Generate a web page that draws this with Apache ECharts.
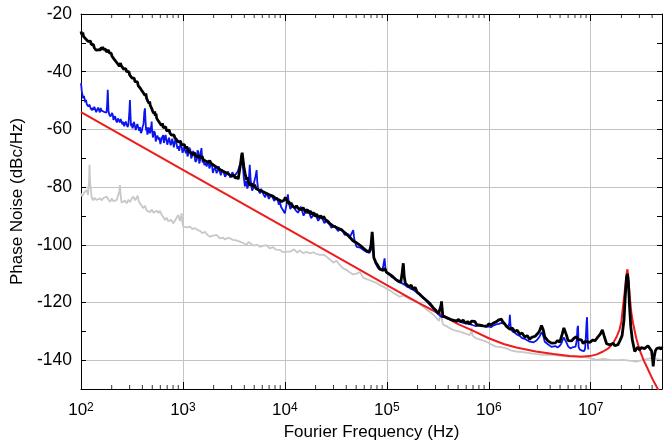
<!DOCTYPE html>
<html>
<head>
<meta charset="utf-8">
<script src="https://cdn.jsdelivr.net/npm/echarts@6/dist/echarts.min.js"></script>
<style>
  html, body { margin: 0; padding: 0; background: #fff; }
  #chart { width: 672px; height: 441px; }
</style>
</head>
<body>
<div id="chart"></div>
<script>
// phase noise traces, [frequency Hz, dBc/Hz]
const blackTrace = [
  [100,-26],[102,-27.2],[104,-26.4],[106,-27.8],[108,-27.3],[111,-28.6],[114,-28.1],[117,-29.5],[119,-28.9],[122,-30],
  [124,-29.4],[126,-30.6],[128,-30.1],[130,-31.1],[132,-30.5],[135,-31.7],[137,-31.2],[140,-32.5],[142,-32],[145,-33],
  [148,-32.4],[151,-32.9],[153,-31.9],[156,-32.4],[158,-31.5],[161,-32.2],[163,-31.4],[166,-32.3],[168,-31.9],[171,-32.8],
  [174,-32.2],[177,-33.1],[180,-32.6],[183,-33.3],[186,-32.5],[189,-33.5],[192,-33],[195,-34.1],[198,-33.6],[201,-34.6],
  [204,-34],[207,-35.1],[210,-34.6],[213,-35.8],[215,-35.2],[219,-36.3],[222,-35.8],[225,-36.9],[228,-36.3],[232,-37.4],
  [235,-36.9],[238,-38.1],[241,-37.5],[244,-37],[248,-37.9],[251,-37.3],[255,-38.5],[258,-38],[262,-39.1],[266,-38.5],
  [270,-39.4],[275,-38.9],[280,-40],[285,-39.5],[291,-40.6],[295,-40],[300,-41.1],[304,-40.5],[308,-41.7],[312,-41.1],
  [317,-42.2],[321,-41.6],[326,-42.8],[332,-42.2],[338,-43.4],[344,-42.8],[350,-44],[357,-43.5],[364,-44.8],[371,-44.2],
  [379,-45.6],[386,-45],[394,-46.5],[402,-46],[410,-47.4],[417,-46.8],[425,-48.3],[432,-47.6],[440,-49.2],[446,-48.6],
  [452,-50.2],[458,-49.6],[465,-51],[471,-50.3],[478,-51.7],[485,-51.1],[493,-52.7],[499,-52.1],[506,-53.8],[513,-53.2],
  [520,-54.5],[528,-53.8],[536,-55.3],[544,-54.6],[552,-56.1],[561,-55.5],[570,-56.9],[580,-56.3],[590,-57.7],[602,-57.1],
  [615,-58.6],[628,-57.9],[641,-59.4],[653,-58.8],[665,-59.8],[677,-59.1],[690,-60.5],[704,-59.9],[718,-60.9],[732,-60.2],
  [746,-61.3],[759,-60.7],[772,-62],[786,-61.4],[800,-62.5],[816,-61.9],[833,-62.9],[850,-62.4],[867,-63.6],[883,-63],
  [900,-64.3],[915,-63.7],[930,-64.8],[949,-64.2],[968,-65.3],[988,-64.7],[1007,-65.9],[1033,-65.3],[1060,-66.6],[1090,-65.9],
  [1120,-67.4],[1155,-66.8],[1190,-68],[1225,-67.4],[1262,-68.8],[1300,-68.1],[1340,-69.2],[1380,-68.6],[1420,-69.7],[1460,-69],
  [1500,-70],[1540,-69.3],[1582,-70.5],[1630,-69.9],[1680,-71],[1730,-70.4],[1780,-71.5],[1830,-70.8],[1880,-71.7],[1930,-71.2],
  [1982,-72.3],[2060,-71.8],[2140,-73.1],[2220,-72.6],[2300,-73.9],[2390,-73.3],[2480,-74.5],[2580,-73.9],[2680,-75.1],[2760,-74.6],
  [2850,-75.7],[2920,-75.1],[3000,-76.2],[3060,-75.6],[3120,-76.4],[3180,-75.9],[3236,-76.8],[3290,-76.3],[3350,-77.2],[3420,-76.6],
  [3480,-77.3],[3580,-74.5],[3680,-71.8],[3760,-69],[3811,-68.1],[3870,-70],[3960,-73],[4080,-75.5],[4210,-77.4],[4300,-76.6],
  [4400,-78.3],[4500,-77.7],[4600,-79.5],[4740,-78.8],[4890,-79.9],[5040,-79.2],[5200,-80.5],[5400,-79.9],[5600,-81.1],[5850,-80.5],
  [6120,-81.6],[6400,-81],[6700,-82.3],[7000,-81.7],[7300,-82.9],[7480,-82.3],[7670,-83.2],[7930,-82.7],[8200,-84],[8500,-83.4],
  [8800,-84.5],[9050,-83.9],[9300,-85],[9550,-84.4],[9800,-84.6],[10100,-83.6],[10400,-84.3],[10650,-85.6],[10900,-84.9],[11200,-86.1],
  [11500,-85.4],[11800,-86.6],[12100,-86],[12550,-87.2],[13000,-86.5],[13500,-87.4],[14000,-86.8],[14550,-87.8],[15100,-87.1],[15800,-88.5],
  [16500,-87.8],[17100,-89],[17800,-88.3],[18300,-89.5],[18900,-88.8],[19700,-90.1],[20500,-89.4],[21400,-90.6],[22400,-89.9],[23200,-90.9],
  [24000,-90.2],[24800,-91.2],[25600,-90.6],[26500,-91.9],[27500,-92.6],[28600,-92.9],[29800,-93.5],[31100,-93.2],[32500,-94.1],[33700,-93.6],
  [35000,-94.6],[36100,-94.1],[37300,-95.3],[38900,-94.9],[40500,-96.4],[42000,-95.9],[43500,-97.5],[45100,-97],[46800,-98.7],[48600,-98.1],
  [50500,-99.3],[52700,-98.8],[55000,-100.3],[57000,-99.7],[59000,-101.2],[61100,-100.6],[63300,-102.1],[65400,-101.5],[67500,-102.4],[70000,-100],
  [71800,-95.5],[73000,-99],[74500,-104.5],[76200,-105.2],[78000,-106.2],[80000,-105.6],[82000,-107.3],[83700,-106.8],[85300,-108.4],[88600,-107.8],
  [92000,-108.9],[95400,-108.2],[99000,-109.5],[103000,-108.9],[107000,-110.3],[110500,-109.7],[114000,-111],[117500,-110.5],[121000,-111.9],[125000,-111.3],
  [129000,-112.5],[133000,-112],[137000,-113],[141000,-110],[145000,-106.4],[148000,-111],[152000,-113.3],[158000,-112.8],[165000,-114.6],[173000,-114],
  [181000,-115.4],[190000,-114.8],[198000,-116.4],[205000,-115.8],[212000,-117.3],[220000,-116.7],[227000,-118.3],[236000,-117.7],[245000,-119.3],[255000,-118.8],
  [265000,-120.4],[275000,-119.9],[285000,-121.8],[295000,-121.2],[305000,-122.9],[314000,-122.3],[322000,-123.8],[330000,-123.3],[335000,-124.3],[340000,-121],
  [344000,-119.6],[348000,-122],[355000,-124.8],[370000,-124.3],[385000,-125.2],[402000,-124.7],[420000,-125.8],[435000,-125.2],[450000,-126.2],[466000,-125.6],
  [482000,-126.4],[505000,-125.9],[530000,-126.7],[560000,-126.1],[590000,-127.2],[620000,-126.6],[651000,-127.5],[675000,-126.5],[700000,-127.1],[730000,-126.6],
  [760000,-127.7],[790000,-127.1],[820000,-127.9],[850000,-127.3],[880000,-128.1],[920000,-127.5],[960000,-128.2],[1000000,-127.4],[1050000,-127.8],[1100000,-127.2],
  [1140000,-127.6],[1180000,-126.7],[1220000,-126.9],[1260000,-126],[1300000,-126.4],[1330000,-125.8],[1360000,-126.5],[1400000,-126.9],[1440000,-127.5],[1480000,-128.2],
  [1540000,-128.6],[1610000,-129.3],[1700000,-128.9],[1800000,-130.1],[1900000,-129.6],[2010000,-131],[2120000,-130.6],[2250000,-132],[2380000,-131.5],[2520000,-132.8],
  [2630000,-132.1],[2750000,-132.5],[2850000,-131.7],[2940000,-131.6],[3050000,-130.6],[3150000,-129.8],[3290000,-128],[3420000,-129.5],[3540000,-131.9],[3670000,-132.6],
  [3800000,-133.3],[3950000,-132.8],[4120000,-134.1],[4300000,-133.5],[4500000,-134],[4730000,-133.2],[4970000,-133.8],[5250000,-131],[5450000,-128.8],[5600000,-129],
  [5800000,-131.5],[5990000,-133.2],[6250000,-132.7],[6500000,-133.3],[6850000,-132.4],[7240000,-131.9],[7500000,-132.8],[7800000,-133.4],[8100000,-133],[8410000,-134.2],
  [8800000,-133.5],[9200000,-133.3],[9800000,-133.8],[10500000,-133],[11000000,-133.3],[11500000,-132.4],[12000000,-132.2],[12400000,-131],[13000000,-129.5],[13500000,-131.5],
  [14300000,-134.3],[14900000,-133.9],[15500000,-134.7],[16000000,-134.3],[16600000,-134.1],[17200000,-135],[17900000,-135.2],[18500000,-134.6],[19200000,-133.5],[20300000,-131.5],
  [21200000,-126],[21800000,-118],[22400000,-111.5],[22900000,-110.1],[23400000,-113],[24000000,-121],[24700000,-128.4],[25600000,-133],[26400000,-135.3],[27000000,-137],
  [28000000,-136.2],[29000000,-135.5],[30200000,-136.5],[31300000,-135.6],[32500000,-135.2],[33700000,-136],[35000000,-135.6],[36400000,-135],[37900000,-135.3],[39500000,-136.8],
  [40500000,-140],[41000000,-142.2],[41600000,-139.5],[43000000,-136.8],[44300000,-136],[45700000,-136.5],[46800000,-135.7],[48000000,-135.6],[49000000,-136.2],[50000000,-135.3]
];

const blueTrace = [
  [100,-44],[102,-47],[105,-49.2],[107,-48.4],[110,-50.6],[112,-49.8],[114,-51.3],[116,-50.7],[118,-52.1],[121,-51.4],
  [124,-52.6],[126,-52],[128,-53.4],[130,-52.5],[132,-53.3],[135,-52.2],[138,-52.6],[141,-54],[144,-53.5],[147,-52.4],
  [150,-52.9],[153,-54.1],[156,-52.6],[159,-53.5],[162,-53.8],[165,-52.9],[168,-53.9],[172,-54.5],[175,-53.4],[178,-54.2],
  [180,-52],[183,-46.3],[186,-53.5],[189,-54.8],[192,-54.4],[195,-55.5],[198,-55.2],[202,-54.3],[205,-55],[208,-56.7],
  [212,-56.3],[216,-55.4],[220,-56.8],[225,-57.6],[230,-56.2],[235,-56.9],[240,-57.6],[245,-56.4],[250,-57],[255,-58.3],
  [260,-57.4],[265,-58.9],[270,-58.5],[275,-57.3],[280,-57.6],[286,-59.2],[292,-58.3],[298,-54],[302,-49.8],[306,-55.5],
  [310,-58.9],[314,-57.9],[320,-59.6],[325,-58.8],[331,-57.4],[338,-57.8],[344,-60.2],[350,-59.8],[357,-58.1],[365,-58.6],
  [372,-60.5],[379,-59.2],[387,-61.3],[395,-60.6],[402,-59.1],[410,-58.2],[418,-54],[424,-52.7],[430,-57.5],[435,-60.4],
  [440,-59.2],[448,-61.8],[455,-61],[462,-59.3],[470,-59.6],[476,-61.4],[482,-60.2],[488,-59],[493,-57.3],[497,-59.6],
  [500,-60.5],[507,-62.8],[515,-62.2],[523,-60.6],[532,-61.4],[541,-64.2],[550,-63],[560,-62.1],[570,-61.5],[580,-63.7],
  [590,-62.8],[600,-65.1],[610,-64],[625,-62.7],[641,-62],[650,-64.7],[660,-63.6],[675,-61.9],[690,-62.2],[702,-65.3],
  [715,-64.1],[730,-62.9],[746,-62.5],[758,-65.5],[770,-64.8],[785,-63.2],[800,-63],[815,-66.2],[830,-64.5],[848,-63.4],
  [867,-63.1],[884,-66.7],[900,-65.8],[918,-67.4],[935,-66],[952,-63.9],[970,-64.5],[990,-68.1],[1010,-67.3],[1030,-66.1],
  [1050,-65.8],[1068,-68.3],[1087,-67.1],[1108,-69.4],[1130,-68.6],[1155,-66.3],[1180,-67],[1205,-70.1],[1230,-69.2],[1260,-67.5],
  [1290,-68.5],[1325,-71.3],[1364,-70.6],[1390,-67.3],[1420,-68],[1445,-71.8],[1470,-70.9],[1495,-67.9],[1520,-66.5],[1540,-69.8],
  [1560,-71.5],[1590,-70.2],[1620,-72.4],[1660,-71.5],[1707,-72.9],[1745,-71.6],[1780,-70.8],[1815,-73.5],[1850,-73.8],[1890,-71.9],
  [1930,-72.6],[1965,-75.1],[2000,-74.2],[2070,-73.1],[2140,-75.2],[2200,-74.3],[2250,-72.8],[2300,-74.6],[2350,-75.9],[2420,-74.1],
  [2500,-74.8],[2590,-76.4],[2680,-75.8],[2770,-74.6],[2850,-75],[2920,-76.7],[3000,-76],[3050,-74.8],[3100,-75.2],[3200,-76.3],
  [3300,-75.5],[3380,-76.1],[3450,-74.6],[3600,-72.5],[3750,-70.5],[3850,-72],[3950,-76.5],[4050,-79.8],[4120,-77.8],[4200,-78.5],
  [4280,-80.5],[4350,-79.6],[4450,-76.5],[4520,-72.3],[4600,-76.8],[4650,-78.5],[4770,-81.2],[4890,-80.4],[4970,-78.6],[5050,-77.5],
  [5160,-76.2],[5280,-74.1],[5360,-78.2],[5450,-80.3],[5570,-81.5],[5700,-82.2],[5850,-80.6],[6000,-81],[6200,-82.7],[6400,-83.5],
  [6600,-81.8],[6800,-82.3],[6960,-84.1],[7130,-84.5],[7360,-82.6],[7600,-83.2],[7850,-84.8],[8100,-85.3],[8300,-83.6],[8500,-84.3],
  [8700,-86.1],[8930,-85],[9150,-86.8],[9400,-87.5],[9700,-88.3],[10000,-89.1],[10200,-87.4],[10400,-86],[10550,-84.1],[10700,-82.5],
  [10850,-84.6],[11000,-85.8],[11300,-87.6],[11600,-86.8],[11950,-86.1],[12300,-85.5],[12650,-87.9],[13000,-87.3],[13450,-88.9],[13900,-88.5],
  [14350,-86.8],[14800,-87.4],[15250,-89.9],[15700,-89.6],[16000,-88.3],[16300,-89.1],[16900,-87.8],[17500,-88.3],[18100,-90.8],[18800,-90.3],
  [19600,-88.9],[20400,-89.5],[21200,-91.7],[22000,-91.4],[22700,-90.1],[23500,-90.6],[24400,-92.5],[25300,-91.8],[26400,-92.2],[27500,-93],
  [28600,-94.1],[29800,-93.7],[30900,-93.4],[32000,-94.4],[33200,-95.2],[34500,-94.9],[35700,-94.4],[37000,-95.3],[38600,-96.6],[40300,-96.2],
  [41900,-96.3],[43500,-97.3],[45200,-97.5],[46800,-94.9],[47600,-97.2],[48500,-99],[49500,-99.8],[50500,-100.7],[52700,-100.1],[55000,-101],
  [57000,-100.6],[59000,-101.8],[61100,-101.4],[63300,-102.5],[65400,-102],[67500,-102.8],[70500,-101.5],[72000,-98],[74000,-103.5],[76000,-105.6],
  [78000,-106.5],[81500,-107.9],[85300,-108.6],[87600,-109.2],[90000,-108.8],[92500,-107.1],[95000,-104.7],[97000,-108.4],[99000,-109.6],[103000,-109.9],
  [107000,-110.5],[112000,-111.2],[118000,-111.5],[123000,-112.2],[129000,-112.8],[134000,-112.9],[140000,-113.3],[145000,-113.8],[150000,-113.9],[157000,-114.5],
  [165000,-114.8],[173000,-115.3],[181000,-115.6],[193000,-116.3],[205000,-116.9],[216000,-117.8],[227000,-118.5],[241000,-119.3],[255000,-120.2],[270000,-121.2],
  [285000,-122],[297000,-122.8],[310000,-123.4],[320000,-124.1],[331000,-124.6],[345000,-125.1],[360000,-125.3],[372000,-124.7],[385000,-125.5],[407000,-125.7],
  [430000,-126.2],[455000,-126.1],[482000,-126.7],[515000,-126.5],[550000,-127],[600000,-127.3],[651000,-127.5],[700000,-127.9],[750000,-128.2],[815000,-127.9],
  [880000,-128.1],[940000,-128.5],[1000000,-128.3],[1050000,-128.6],[1100000,-128],[1150000,-127.6],[1200000,-127.5],[1260000,-127.4],[1330000,-127.1],[1390000,-127.3],
  [1450000,-127.6],[1500000,-128.1],[1560000,-128.5],[1590000,-127],[1610000,-124.3],[1630000,-127.5],[1650000,-129.3],[1720000,-130.1],[1800000,-130.5],[1900000,-131.2],
  [2010000,-131.6],[2120000,-132.4],[2250000,-132.6],[2380000,-133.1],[2520000,-133.6],[2630000,-134],[2750000,-133.8],[2840000,-133.5],[2940000,-133.2],[3050000,-132.6],
  [3150000,-131.8],[3220000,-131],[3300000,-130.3],[3380000,-131.2],[3450000,-132],[3540000,-133.6],[3670000,-134.2],[3800000,-134.5],[3950000,-135.1],[4120000,-135.4],
  [4300000,-134.8],[4500000,-135.1],[4730000,-135.6],[4970000,-135],[5150000,-134.2],[5300000,-133],[5430000,-132.1],[5560000,-131.5],[5680000,-132.6],[5800000,-134],
  [6000000,-135.2],[6300000,-135.9],[6600000,-135.6],[6850000,-136.1],[7100000,-135.3],[7300000,-133],[7400000,-129],[7500000,-128.1],[7550000,-131],[7600000,-135.4],
  [7800000,-136.3],[8000000,-136],[8200000,-136.7],[8410000,-136.5],[8600000,-136.9],[8800000,-136],[8950000,-132],[9100000,-127],[9200000,-125.1],[9300000,-131],
  [9400000,-135.5],[9500000,-136.3]
];

const grayTrace = [
  [100,-82.2],[103,-83.2],[107,-82],[110,-81.6],[114,-81],[117,-82.8],[120,-78],[121,-72.3],[123,-78.5],[127,-83.3],
  [131,-84.6],[136,-83.7],[142,-84.5],[148,-85],[154,-83.9],[160,-84.6],[166,-83.8],[172,-84.2],[179,-83.3],[186,-84.4],
  [193,-85.1],[200,-84],[208,-84.9],[216,-85.4],[224,-84.5],[232,-84],[237,-81.5],[241,-79.3],[245,-83],[250,-85.4],
  [260,-85.5],[270,-84.7],[280,-85.6],[292,-84.4],[303,-85.2],[314,-84],[326,-83.3],[340,-84.6],[352,-84.5],[360,-83],
  [368,-84.9],[379,-85.6],[392,-86.4],[407,-87.3],[425,-86.5],[440,-88.1],[456,-88.6],[475,-88.7],[495,-87.8],[515,-88.9],
  [535,-89.5],[555,-88.2],[575,-89],[595,-88.2],[620,-89.7],[645,-90.5],[668,-91.4],[691,-90.6],[715,-91.8],[740,-92.4],
  [770,-91.4],[802,-92.6],[840,-91.5],[870,-90.5],[898,-89.7],[935,-91.8],[970,-89.1],[990,-92.5],[1007,-93.7],[1050,-93.2],
  [1100,-94],[1170,-93.7],[1240,-94.6],[1310,-94.2],[1390,-94.9],[1470,-95.2],[1560,-96],[1650,-95.5],[1740,-96.6],[1840,-97.2],
  [1980,-96.8],[2140,-96.6],[2300,-97.8],[2450,-97.5],[2600,-98.2],[2750,-97.6],[2890,-97.8],[3100,-98.3],[3350,-98.5],[3600,-98.9],
  [3900,-99.4],[4210,-100.1],[4400,-99],[4520,-98.5],[4700,-99.8],[5000,-100.3],[5350,-100],[5700,-100.7],[6100,-100.4],[6580,-100.1],
  [7130,-101.3],[7600,-100.8],[8200,-101.7],[8930,-101.8],[9600,-102.6],[10200,-102.4],[11200,-102.4],[12300,-101.6],[13200,-102.7],[14000,-102],
  [15100,-102.9],[16400,-102.5],[17600,-103],[19000,-102.6],[20400,-103.2],[22000,-103.5],[23700,-103.4],[25600,-104.1],[27500,-105],[29800,-106.2],
  [32000,-105.5],[34500,-107],[37300,-108.2],[40500,-108.8],[43500,-109.6],[46800,-110.3],[50500,-110],[54600,-109.5],[58600,-111.4],[63300,-111.9],
  [68000,-112.3],[73500,-112.8],[79000,-113.2],[85300,-114],[92000,-114.5],[99000,-115.2],[107000,-115.8],[115000,-116.6],[125000,-117.4],[134000,-118],
  [145000,-117.6],[156000,-118.2],[170000,-119],[184000,-119.3],[197000,-119.7],[215000,-120.8],[230000,-121.6],[247000,-122.6],[265000,-123.3],[285000,-124.2],
  [309000,-125.5],[325000,-126.4],[337000,-124],[342000,-122.8],[348000,-126.5],[360000,-127.8],[385000,-128.2],[418000,-129],[460000,-129.7],[524000,-130.1],
  [590000,-130.8],[651000,-131.3],[668000,-130.5],[680000,-128.8],[692000,-131.5],[750000,-132.4],[840000,-133],[950000,-133.6],[1060000,-134.6],[1180000,-135.3],
  [1320000,-135.5],[1480000,-135.9],[1650000,-136.6],[1860000,-137],[2150000,-137.2],[2520000,-137.6],[2950000,-137.9],[3400000,-138.2],[3950000,-138.1],[4600000,-138.3],
  [5300000,-138.6],[6200000,-138.8],[7200000,-138.6],[8400000,-138.8],[9800000,-139.3],[11400000,-139.9],[13300000,-139.6],[15500000,-139.9],[18000000,-140],[20700000,-139.9],
  [24000000,-140.2],[28000000,-140.5],[32500000,-139.9],[37900000,-139.4],[43500000,-139.6],[50000000,-139.9]
];

const redModel = [
  [100,-54],[1000,-74],[10000,-94],[100000,-114],[200000,-120],[330000,-124],[500000,-127.5],[680000,-129.6],[1000000,-132.4],[1400000,-134.4],
  [1860000,-135.6],[2900000,-137],[4300000,-137.9],[6200000,-138.6],[8000000,-138.8],[9800000,-138.6],[11500000,-138],[13200000,-137],[15000000,-135.8],[16600000,-134.1],
  [18000000,-131.8],[19200000,-129.3],[20000000,-126.5],[20700000,-121.5],[21500000,-116.5],[22000000,-113.4],[22500000,-110],[22900000,-108.5],[23300000,-110.5],[24000000,-117],
  [25000000,-123.5],[26000000,-127.2],[28000000,-132.5],[30200000,-136.5],[33000000,-140],[36000000,-142.8],[40800000,-146.9],[46000000,-150.3],[50000000,-153]
];

// minor tick positions on the log frequency axis
const minorTicks = [
  200,300,400,500,600,700,800,900,
  2000,3000,4000,5000,6000,7000,8000,9000,
  20000,30000,40000,50000,60000,70000,80000,90000,
  200000,300000,400000,500000,600000,700000,800000,900000,
  2000000,3000000,4000000,5000000,6000000,7000000,8000000,9000000,
  20000000,30000000,40000000
];

const xMin = 100, xMax = 5e7;
const yMin = -150, yMax = -20;

const font = 'Liberation Sans';
const chart = echarts.init(document.getElementById('chart'), null, { renderer: 'canvas' });

const logAxisBase = {
  type: 'log',
  logBase: 10,
  min: xMin,
  max: xMax,
  axisLine: { show: true, lineStyle: { color: '#000', width: 1 } },
  axisTick: { show: true, inside: true, length: 7, lineStyle: { color: '#000' } },
}

const valAxisBase = {
  type: 'value',
  min: yMin,
  max: yMax,
  interval: 10,
  axisLine: { show: true, lineStyle: { color: '#000', width: 1 } },
  axisTick: { show: true, inside: true, length: 5, lineStyle: { color: '#000' } },
}

const option = {
  animation: false,
  backgroundColor: '#fff',
  grid: { left: 81, right: 10, top: 14, bottom: 52, containLabel: false, outerBoundsMode: 'none' },
  xAxis: [
    Object.assign({}, logAxisBase, {
      position: 'bottom',
      name: 'Fourier Frequency (Hz)',
      nameLocation: 'middle',
      nameGap: 35,
      nameTextStyle: { fontFamily: font, fontSize: 17, color: '#000' },
      splitLine: { show: true, lineStyle: { color: '#c4c4c4', width: 1 } },
      axisLabel: {
        margin: 13,
        color: '#000',
        fontFamily: font,
        fontSize: 17,
        formatter: function (v) {
          const e = Math.log10(v)
          if (Math.abs(e - Math.round(e)) > 1e-6) return ''
          return '10{s|' + Math.round(e) + '}'
        },
        rich: {
          s: { fontFamily: font, fontSize: 12, color: '#000', verticalAlign: 'top', lineHeight: 12 },
        },
      },
    }),
    Object.assign({}, logAxisBase, {
      position: 'top',
      axisLabel: { show: false },
      splitLine: { show: false },
    }),
  ],
  yAxis: [
    Object.assign({}, valAxisBase, {
      position: 'left',
      name: 'Phase Noise (dBc/Hz)',
      nameLocation: 'middle',
      nameGap: 45,
      nameTextStyle: { fontFamily: font, fontSize: 17, color: '#000' },
      splitLine: { show: true, lineStyle: { color: ['transparent', '#c4c4c4'], width: 1 } },
      axisLabel: {
        margin: 9,
        color: '#000',
        fontFamily: font,
        fontSize: 17.5,
        formatter: function (v) {
          return v % 20 === 0 ? String(v) : ''
        },
      },
    }),
    Object.assign({}, valAxisBase, {
      position: 'right',
      axisLabel: { show: false },
      splitLine: { show: false },
    }),
  ],
  series: [
    {
      name: 'floor',
      type: 'line',
      data: grayTrace,
      showSymbol: false,
      lineStyle: { color: '#c8c8c8', width: 1.8 },
      z: 2,
    },
    {
      name: 'model',
      type: 'line',
      data: redModel,
      showSymbol: false,
      lineStyle: { color: '#ee1c1c', width: 2 },
      z: 3,
    },
    {
      name: 'blue',
      type: 'line',
      data: blueTrace,
      showSymbol: false,
      lineStyle: { color: '#0a14f0', width: 1.8 },
      z: 4,
    },
    {
      name: 'black',
      type: 'line',
      data: blackTrace,
      showSymbol: false,
      lineStyle: { color: '#000', width: 2.8 },
      z: 5,
    },
    // minor ticks (bottom / top)
    {
      type: 'scatter',
      silent: true,
      clip: false,
      data: minorTicks.map((f) => [f, yMin]),
      symbol: 'rect',
      symbolSize: [1, 4],
      symbolOffset: [0, -2],
      itemStyle: { color: '#000' },
      z: 6,
    },
    {
      type: 'scatter',
      silent: true,
      clip: false,
      data: minorTicks.map((f) => [f, yMax]),
      symbol: 'rect',
      symbolSize: [1, 4],
      symbolOffset: [0, 2],
      itemStyle: { color: '#000' },
      z: 6,
    },
  ],
}

chart.setOption(option)
</script>
</body>
</html>
